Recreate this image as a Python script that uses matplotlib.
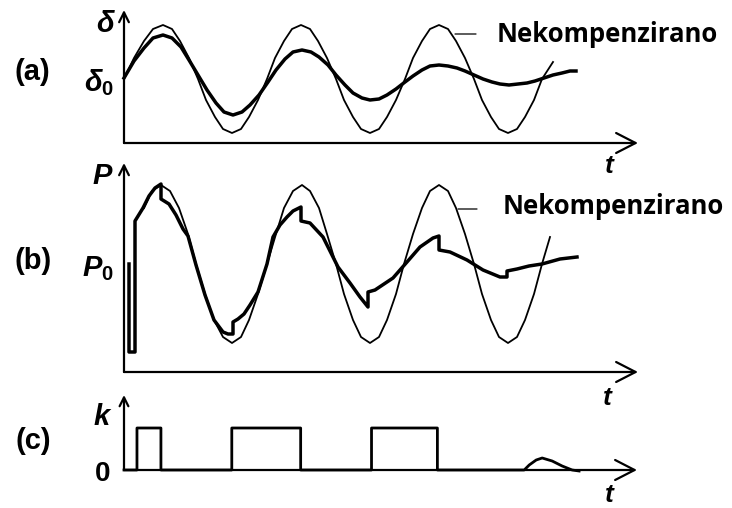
import numpy as np
import matplotlib.pyplot as plt

plt.rcParams['mathtext.fontset'] = 'custom'
plt.rcParams['mathtext.it'] = 'Liberation Sans:italic:bold'
plt.rcParams['mathtext.rm'] = 'Liberation Sans:bold'

# (a) rotor angle, t and value (arbitrary units)
t_a_thin = [0, 10, 20, 29, 39, 48, 56, 65, 74, 82, 91, 99, 108, 117, 125, 134, 143, 151, 160, 168,
            177, 186, 194, 203, 212, 220, 229, 237, 246, 255, 263, 272, 281, 289, 298, 306, 315, 324,
            332, 341, 350, 358, 367, 375, 384, 393, 401, 410, 418, 429]
d_a_thin = [64, 85, 102, 114, 118, 114, 102, 85, 64, 43, 26, 14, 10, 14, 26, 43, 64, 85, 102, 114,
            118, 114, 102, 85, 64, 43, 26, 14, 10, 14, 26, 43, 64, 85, 102, 114, 118, 114,
            102, 85, 64, 43, 26, 14, 10, 14, 26, 43, 64, 81]
t_a_thick = [0, 10, 20, 29, 39, 48, 57, 65, 74, 83, 92, 100, 109, 118, 126, 135, 144, 152, 161, 169,
             178, 187, 195, 204, 212, 221, 229, 238, 246, 255, 263, 272, 281, 289, 298, 306, 315,
             324, 333, 341, 350, 359, 368, 376, 385, 394, 403, 411, 420, 429, 438, 446, 452]
d_a_thick = [65, 82, 95, 105, 108, 105, 96, 83, 68, 53, 40, 31, 28, 31, 38, 48, 61, 73, 84, 91,
             93, 91, 86, 78, 68, 58, 50, 45, 43, 44, 48, 54, 61, 67, 73, 77, 78,
             77, 75, 72, 68, 64, 61, 59, 58, 59, 60, 62, 65, 68, 70, 72, 72]

# (b) electrical power
t_b_thin = [20, 28, 37, 46, 55, 64, 72, 81, 90, 99, 108, 117, 125, 134, 143, 152, 160, 169,
            178, 186, 195, 203, 212, 220, 229, 237, 246, 255, 263, 272, 280, 289, 298, 306, 315,
            324, 332, 341, 350, 358, 367, 375, 384, 393, 401, 410, 418, 426]
p_b_thin = [164, 181, 187, 181, 164, 138, 108, 78, 52, 35, 29, 35, 52, 78, 108, 138, 164, 181,
            187, 181, 164, 138, 108, 78, 52, 35, 29, 35, 52, 78, 108, 138, 164, 181, 187,
            181, 164, 138, 108, 78, 52, 35, 29, 35, 52, 78, 108, 135]
t_b_thick = [5, 5, 11, 11, 19, 25, 31, 37, 37, 45, 52, 59, 64, 72, 81, 90, 99, 104, 109, 109,
             114, 120, 126, 134, 143, 149, 156, 163, 169, 177, 177, 186, 199, 214, 226, 236, 244, 244,
             251, 260, 269, 283, 296, 309, 315, 315, 326, 343, 359, 376, 383, 383,
             393, 405, 418, 436, 453]
p_b_thick = [108, 20, 20, 151, 164, 176, 184, 188, 173, 168, 157, 143, 136, 107, 77, 52, 40, 38, 38, 50,
             53, 58, 67, 80, 108, 135, 147, 155, 161, 165, 151, 149, 135, 105, 89, 75, 65, 80,
             82, 88, 94, 110, 125, 134, 136, 122, 120, 112, 102, 95, 95, 101,
             103, 106, 108, 113, 115]

# (c) switching signal k
t_c = [0, 13, 13, 37, 37, 108, 108, 177, 177, 248, 248, 314, 314, 401, 406, 413, 419, 429, 439, 449, 456]
k_c = [0, 0, 42, 42, 0, 0, 42, 42, 0, 0, 42, 42, 0, 0, 5, 10, 12, 9, 4, 0, -1]

label_text = 'Nekompenzirano'

W, H = 732, 508
fig = plt.figure(figsize=(W / 100, H / 100), dpi=100)


def px_rect(x0, y_base, x1, y_top):
    return [x0 / W, 1 - y_base / H, (x1 - x0) / W, (y_base - y_top) / H]


def fpos(x, y):
    return x / W, 1 - y / H


def draw_axes(ax, ytop, yhead=0.5):
    ax.set_xlim(0, 514)
    ax.set_ylim(0, ytop)
    ax.set_axis_off()
    ax.annotate('', xy=(1, 0), xytext=(0, 0), xycoords='axes fraction',
                arrowprops=dict(arrowstyle='->,head_length=0.7,head_width=0.36', lw=1.6,
                                mutation_scale=20, shrinkA=0, shrinkB=0, color='black'))
    ax.annotate('', xy=(0, 1), xytext=(0, 0), xycoords='axes fraction',
                arrowprops=dict(arrowstyle='->,head_length=%g,head_width=%g' % (yhead, yhead / 2),
                                lw=1.6, mutation_scale=14, shrinkA=0, shrinkB=0, color='black'))


ax_a = fig.add_axes(px_rect(124, 143, 638, 10))
draw_axes(ax_a, 133)
ax_a.plot(t_a_thin, d_a_thin, color='black', lw=1.3, clip_on=False)
ax_a.plot(t_a_thick, d_a_thick, color='black', lw=2.5, clip_on=False)
ax_a.annotate('', xy=(331, 109), xytext=(352, 109),
              arrowprops=dict(arrowstyle='-', lw=0.9, color='black', shrinkA=0, shrinkB=0))

ax_b = fig.add_axes(px_rect(124, 372, 638, 163))
draw_axes(ax_b, 209)
ax_b.plot(t_b_thin, p_b_thin, color='black', lw=1.3, clip_on=False)
ax_b.plot(t_b_thick, p_b_thick, color='black', lw=2.5, clip_on=False)
ax_b.annotate('', xy=(334, 163), xytext=(353, 163),
              arrowprops=dict(arrowstyle='-', lw=0.9, color='black', shrinkA=0, shrinkB=0))

ax_c = fig.add_axes(px_rect(124, 470, 637, 395))
draw_axes(ax_c, 75, yhead=0.45)
ax_c.plot(t_c, k_c, color='black', lw=2.0, clip_on=False)

lab = dict(ha='center', va='center', fontsize=21, family='Liberation Sans', weight='bold')
fig.text(*fpos(32, 72), '(a)', **lab)
fig.text(*fpos(33, 261), '(b)', **lab)
fig.text(*fpos(33, 441), '(c)', **lab)

sym = dict(ha='center', va='center', fontsize=21)
fig.text(*fpos(106, 24), r'$\delta$', **sym)
fig.text(*fpos(99, 83), r'$\delta_0$', **sym)
fig.text(*fpos(103, 176), r'$P$', **sym)
fig.text(*fpos(98, 269), r'$P_0$', **sym)
fig.text(*fpos(103, 417), r'$k$', **sym)
fig.text(*fpos(103, 474), '0', ha='center', va='center', fontsize=20, family='Liberation Sans',
         weight='bold')

tl = dict(ha='center', va='center', fontsize=19, family='Liberation Sans', style='italic', weight='bold')
fig.text(*fpos(609, 166), 't', **tl)
fig.text(*fpos(607, 398), 't', **tl)
fig.text(*fpos(609, 495), 't', **tl)

nk = dict(ha='left', va='center', fontsize=18.5, family='Open Sans', weight='bold')
fig.text(*fpos(497, 34), label_text, **nk)
fig.text(*fpos(503, 207), label_text, **nk)

fig.savefig('out.png', dpi=100, facecolor='white')
